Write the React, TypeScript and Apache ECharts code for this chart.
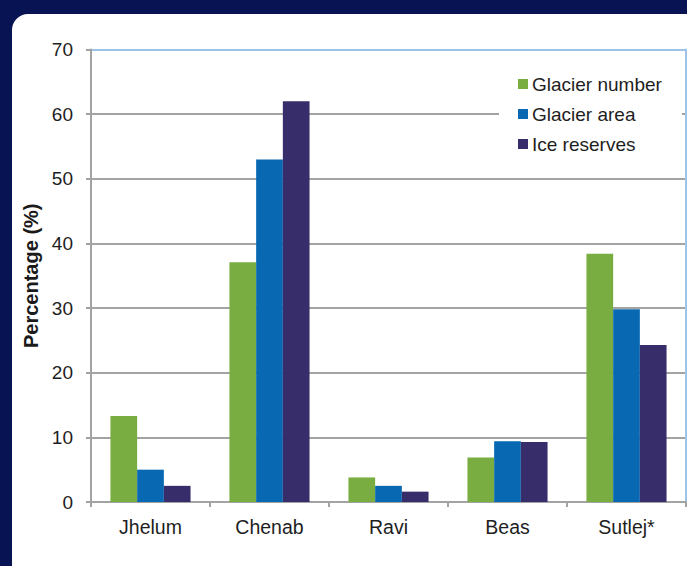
import React, { useEffect, useRef } from "react";
import * as echarts from "echarts";

const categories = ["Jhelum", "Chenab", "Ravi", "Beas", "Sutlej*"];
const glacierNumber = [13.3, 37.1, 3.8, 6.9, 38.4];
const glacierArea = [5.0, 53.0, 2.5, 9.4, 29.8];
const iceReserves = [2.5, 62.0, 1.6, 9.3, 24.3];
const seriesNames = ["Glacier number", "Glacier area", "Ice reserves"];
const seriesColors = ["#79ad41", "#0868b1", "#372d6b"];

export default function App() {
  const ref = useRef<HTMLDivElement>(null);
  useEffect(() => {
    if (!ref.current) return;
    const chart = echarts.init(ref.current, undefined, { renderer: "svg" });
    const grey = "#a3a3a3";
    const lightBlue = "#9dc3e8";
    const font = "Arial, 'Liberation Sans', sans-serif";
    const datasets = [glacierNumber, glacierArea, iceReserves];
    chart.setOption({
      animation: false,
      backgroundColor: "#071352",
      graphic: [
        {
          type: "rect",
          z: -10,
          shape: { x: 12, y: 14, width: 700, height: 600, r: [16, 0, 0, 0] },
          style: { fill: "#ffffff" },
          silent: true,
        },
      ],
      textStyle: { fontFamily: font },
      grid: { left: 91, right: 1, top: 49.5, bottom: 64, containLabel: false },
      legend: {
        orient: "vertical",
        left: 499,
        top: 64.5,
        padding: [10, 20, 10, 19],
        backgroundColor: "#ffffff",
        itemWidth: 10,
        itemHeight: 10,
        itemGap: 11,
        icon: "rect",
        textStyle: { fontSize: 19, color: "#1e1e1e", fontFamily: font, padding: [0, 0, 0, -1] },
        data: seriesNames,
        z: 10,
      },
      xAxis: {
        type: "category",
        data: categories,
        axisLine: { show: true, lineStyle: { color: grey, width: 2 } },
        axisTick: { show: true, length: 5, lineStyle: { color: grey, width: 2 } },
        axisLabel: { fontSize: 19.5, color: "#1e1e1e", margin: 15, interval: 0 },
      },
      yAxis: [
        {
          type: "value",
          min: 0,
          max: 70,
          interval: 10,
          name: "Percentage (%)",
          nameLocation: "middle",
          nameGap: 49,
          nameTextStyle: { fontSize: 20, fontWeight: "bold", color: "#1a1a1a", fontFamily: font },
          axisLine: { show: true, lineStyle: { color: grey, width: 2 } },
          axisTick: { show: true, length: 5, lineStyle: { color: grey, width: 2 } },
          axisLabel: { fontSize: 19, color: "#1e1e1e", margin: 18 },
          splitLine: {
            show: true,
            lineStyle: {
              width: 2,
              color: [grey, grey, grey, grey, grey, grey, grey, lightBlue],
            },
          },
        },
        {
          type: "value",
          min: 0,
          max: 70,
          interval: 10,
          position: "right",
          axisLine: { show: true, lineStyle: { color: lightBlue, width: 2 } },
          axisTick: { show: false },
          axisLabel: { show: false },
          splitLine: { show: false },
        },
      ],
      series: seriesNames.map((name, i) => ({
        name,
        type: "bar",
        data: datasets[i],
        barWidth: 26.7,
        barGap: "0%",
        itemStyle: { color: seriesColors[i] },
      })),
    });
    return () => chart.dispose();
  }, []);
  return (
    <div
      ref={ref}
      style={{ position: "absolute", left: 0, top: 0, width: 687, height: 566 }}
    />
  );
}
